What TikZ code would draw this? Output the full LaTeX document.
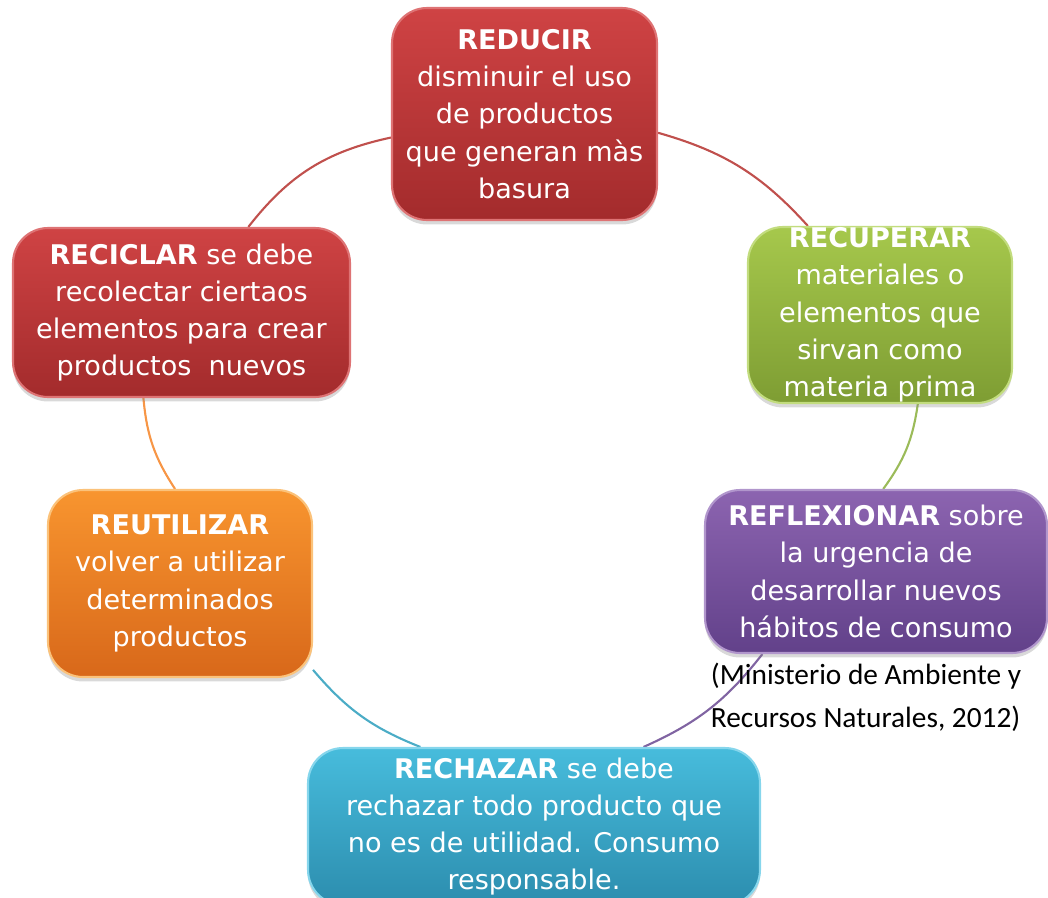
\documentclass[tikz,border=0pt]{standalone}
\usepackage{fontspec}
\setmainfont{DejaVu Sans}
\newfontfamily\citefont{Carlito}
\usetikzlibrary{shadows}
\pgfdeclarelayer{bg}
\pgfsetlayers{bg,main}
\definecolor{lnRed}{HTML}{C0504D}
\definecolor{lnGreen}{HTML}{9BBB59}
\definecolor{lnPurple}{HTML}{8064A2}
\definecolor{lnTeal}{HTML}{4BACC6}
\definecolor{lnOrange}{HTML}{F79646}
\definecolor{redTop}{HTML}{CF4344}
\definecolor{redBot}{HTML}{A32B2C}
\definecolor{redRim}{HTML}{DE7374}
\definecolor{grnTop}{HTML}{A6C84C}
\definecolor{grnBot}{HTML}{7E9D33}
\definecolor{grnRim}{HTML}{C2DC7E}
\definecolor{purTop}{HTML}{8C64B0}
\definecolor{purBot}{HTML}{62418A}
\definecolor{purRim}{HTML}{B196CC}
\definecolor{tealTop}{HTML}{47BCDC}
\definecolor{tealBot}{HTML}{2C8DAE}
\definecolor{tealRim}{HTML}{86D6EC}
\definecolor{orTop}{HTML}{F8952F}
\definecolor{orBot}{HTML}{D8681A}
\definecolor{orRim}{HTML}{FBC27A}
\begin{document}
\begin{tikzpicture}[x=0.02cm,y=-0.02cm,
  box/.style={rectangle, rounded corners=0.7cm, inner sep=0pt, align=center,
    text=white, font=\fontsize{15.4}{21.2}\selectfont, line width=1.2pt,
    drop shadow={opacity=0.3, shadow xshift=0pt, shadow yshift=-0.09cm}},
  link/.style={line width=1.2pt}]
\useasboundingbox (0,0) rectangle (1048,897);

\node[box, top color=redTop, bottom color=redBot, draw=redRim,
  minimum width=5.30cm, minimum height=4.24cm] (reducir) at (524.5,114)
  {\textbf{REDUCIR}\\disminuir el uso\\de productos\\que generan màs\\basura};

\node[box, top color=grnTop, bottom color=grnBot, draw=grnRim,
  minimum width=5.28cm, minimum height=3.52cm] (recuperar) at (880,315)
  {\textbf{RECUPERAR}\\materiales o\\elementos que\\sirvan como\\materia prima};

\node[box, top color=purTop, bottom color=purBot, draw=purRim,
  minimum width=6.84cm, minimum height=3.26cm] (reflexionar) at (876,571.5)
  {\textbf{REFLEXIONAR} sobre\\la urgencia de\\desarrollar nuevos\\hábitos de consumo};

\node[box, top color=tealTop, bottom color=tealBot, draw=tealRim,
  minimum width=9.04cm, minimum height=3.14cm] (rechazar) at (534,826.5)
  {\textbf{RECHAZAR} se debe\\rechazar todo producto que\\no es de utilidad. Consumo\\responsable.};

\node[box, top color=orTop, bottom color=orBot, draw=orRim,
  minimum width=5.28cm, minimum height=3.74cm] (reutilizar) at (180,583.5)
  {\textbf{REUTILIZAR}\\volver a utilizar\\determinados\\productos};

\node[box, top color=redTop, bottom color=redBot, draw=redRim,
  minimum width=6.74cm, minimum height=3.38cm] (reciclar) at (181.5,312.5)
  {\textbf{RECICLAR} se debe\\recolectar ciertaos\\elementos para crear\\productos \ nuevos};

\begin{pgfonlayer}{bg}
\draw[link, lnRed] (reducir.-8.2) to[bend left=16] (recuperar.129.7);
\draw[link, lnGreen] (recuperar.-67.2) to[bend left=14] (reflexionar.85.1);
\draw[link, lnPurple] (reflexionar.216.8) to[bend left=14] (rechazar.36.5);
\draw[link, lnTeal] (rechazar.145.4) to[bend left=14] (reutilizar.-33.8);
\draw[link, lnOrange] (reutilizar.93.7) to[bend left=14] (reciclar.246.6);
\draw[link, lnRed] (reciclar.52.2) to[bend left=20] (reducir.190.7);
\end{pgfonlayer}

\node[font=\citefont\fontsize{16.7}{24.5}\selectfont, align=left, text=black,
  inner sep=0pt] (cita) at (866,697)
  {(Ministerio de Ambiente y\\Recursos Naturales, 2012)};
\end{tikzpicture}
\end{document}
